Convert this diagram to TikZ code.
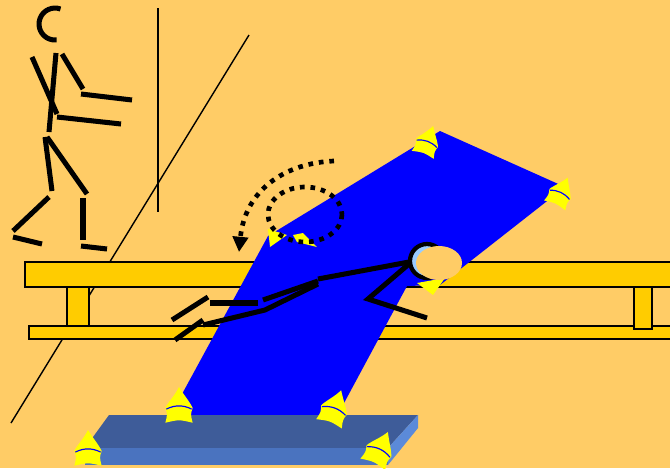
\documentclass[tikz,border=0pt]{standalone}
\usetikzlibrary{arrows.meta}
\definecolor{wall}{HTML}{FFCC66}
\definecolor{benchwood}{HTML}{FFCC00}
\definecolor{matblue}{HTML}{0000FF}
\definecolor{gripyellow}{HTML}{FFFF00}
\definecolor{faceblue}{HTML}{99CCFF}
\definecolor{padtop}{HTML}{3E5C99}
\definecolor{padfront}{HTML}{4A73BF}
\definecolor{padside}{HTML}{5B8AD9}
\tikzset{limb/.style = {line width = 4.3pt},
         guide/.style = {line width = 1.2pt},
         plank/.style = {fill = benchwood, draw = black, line width = 1.3pt},
         turnpath/.style = {line width = 4pt, dash pattern = on 4pt off 5pt},
         mathandle/.pic = {
           \fill[gripyellow] (0,-20) .. controls (5,-12) and (10,-6) .. (12,-2)
             -- (13,0) .. controls (11,6) .. (13,14) .. controls (0,11) .. (-13,14)
             .. controls (-11,6) .. (-13,0) -- (-12,-2)
             .. controls (-9,-7) and (-4,-12) .. cycle;
           \draw[matblue, line width = 1pt] (-12,1) .. controls (-4,-3) and (4,-3) .. (12,1);
         }}

\begin{document}
\begin{tikzpicture}[x = 0.03cm, y = -0.03cm]
  \fill[wall] (0,0) rectangle (670,468);
  \clip (0,0) rectangle (670,468);

  % wall and corner
  \draw[guide] (158,8) -- (158,212);
  \draw[guide] (249,35) -- (11,423);

  % standing helper
  \draw[limb] (60.5,9) arc[start angle = -70, end angle = -276, radius = 16];
  \draw[limb] (56,53) -- (49,132);
  \draw[limb] (32,57) -- (57,114);
  \draw[limb] (57,117) -- (121,124);
  \draw[limb] (62,54) -- (83,89);
  \draw[limb] (81,94) -- (132,100);
  \draw[limb] (45,137) -- (52,191);
  \draw[limb] (49,197) -- (13,231);
  \draw[limb] (13,237) -- (42,244);
  \draw[limb] (47,137) -- (87,194);
  \draw[limb] (83,198) -- (83,240);
  \draw[limb] (81,246) -- (107,249);

  % bench
  \draw[plank] (29,326) rectangle (690,339);
  \draw[plank] (67,287) rectangle (89,326);
  \draw[plank] (634,287) rectangle (652,329);
  \draw[plank] (25,262) rectangle (690,287);

  % tilted mat
  \fill[matblue] (268,236) -- (440,131) -- (565,187) -- (440,285)
    -- (407,286) -- (336,418) -- (169,418) -- cycle;

  % landing pad
  \fill[padtop] (109,415) -- (418,415) -- (388,448) -- (85,448) -- cycle;
  \fill[padfront] (85,448) rectangle (388,465);
  \fill[padside] (388,448) -- (418,415) -- (418,428) -- (388,465) -- cycle;

  % handles
  \fill[gripyellow] (268,229) -- (287,235) -- (270,247) -- cycle;
  \fill[gripyellow] (293,235) -- (303,233) -- (317,247) -- (297,242) -- cycle;
  \fill[gripyellow] (417,283) -- (445,278) -- (433,295) -- cycle;
  \path (427,143) pic[rotate = -20, scale = 0.9] {mathandle};
  \path (560,194) pic[rotate = -25, scale = 0.9] {mathandle};
  \path (179,408) pic[scale = 1.05] {mathandle};
  \path (334,410) pic[rotate = -20, scale = 1.05] {mathandle};
  \path (88,451) pic[scale = 1.05] {mathandle};
  \path (379,451) pic[rotate = -25, scale = 1.05] {mathandle};

  % rolling motion
  \draw[turnpath] (305,214.5) ellipse[x radius = 37, y radius = 27.5];
  \draw[turnpath, -{Triangle[length = 13pt, width = 13pt]}]
    (334,161) .. controls (285,163) and (245,190) .. (239,252);

  % gymnast on the mat
  \filldraw[fill = faceblue, line width = 3.6pt] (427,261) circle[radius = 17];
  \fill[wall] (439,263) ellipse[x radius = 23, y radius = 17];
  \draw[limb] (409,262) -- (318,279);
  \draw[limb] (409,264) -- (368,299) -- (427,318);
  \draw[limb] (318,281) -- (263,300);
  \draw[limb] (258,303) -- (210,303);
  \draw[limb] (208,297) -- (172,320);
  \draw[limb] (318,284) -- (265,310) -- (203,325);
  \draw[limb] (203,320) -- (175,340);
\end{tikzpicture}
\end{document}
